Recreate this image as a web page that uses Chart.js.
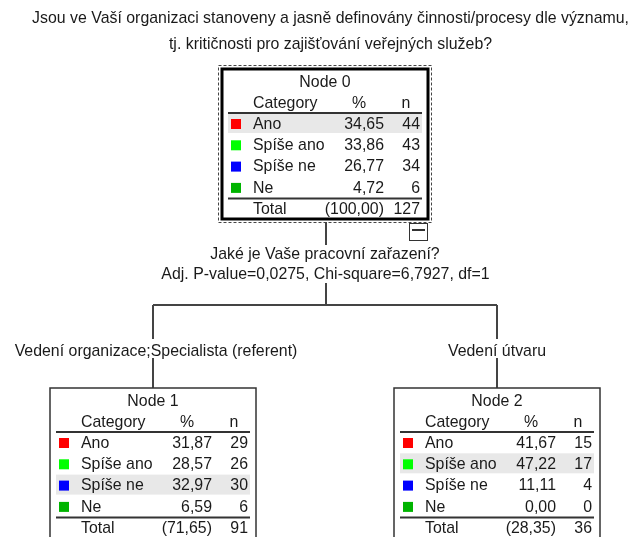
<!DOCTYPE html>
<html>
<head>
<meta charset="utf-8">
<script src="https://cdn.jsdelivr.net/npm/chart.js@4.4.0/dist/chart.umd.min.js"></script>
<style>
  html, body { margin: 0; padding: 0; background: #fff; }
  #wrap { width: 635px; height: 537px; }
</style>
</head>
<body>
<div id="wrap"><canvas id="myChart" width="635" height="537"></canvas></div>
<script>
const titleLines = [
  "Jsou ve Vaší organizaci stanoveny a jasně definovány činnosti/procesy dle významu,",
  "tj. kritičnosti pro zajišťování veřejných služeb?"
];
const categories = ["Ano", "Spíše ano", "Spíše ne", "Ne"];
const catColors = ["#ff0000", "#00ff00", "#0000ff", "#00b400"];

const nodeNames = ["Node 0", "Node 1", "Node 2"];
const node0Pct = [34.65, 33.86, 26.77, 4.72];
const node0N = [44, 43, 34, 6];
const node1Pct = [31.87, 28.57, 32.97, 6.59];
const node1N = [29, 26, 30, 6];
const node2Pct = [41.67, 47.22, 11.11, 0.00];
const node2N = [15, 17, 4, 0];
const nodeSharePct = [100.00, 71.65, 28.35];
const nodeTotalN = [127, 91, 36];

const splitVariable = "Jaké je Vaše pracovní zařazení?";
const splitStats = "Adj. P-value=0,0275, Chi-square=6,7927, df=1";
const branchLabels = ["Vedení organizace;Specialista (referent)", "Vedení útvaru"];

// layout (canvas units) for each node box: left, top
const nodeX = [222, 50, 394];
const nodeY = [69, 388, 388];
const boxW = 206;

const FONT = "17px 'Liberation Sans', Arial, sans-serif";
const textCol = "#1a1a1a";
const squeeze = 0.935; // the original text is a bit narrow

function fmt(v) { return v.toFixed(2).replace(".", ","); }

// text with a slight horizontal squeeze
function txt(ctx, s, x, y, align) {
  ctx.save();
  ctx.translate(x, y);
  ctx.scale(squeeze, 1);
  ctx.textAlign = align || "center";
  ctx.fillText(s, 0, 0);
  ctx.restore();
}

function drawNode(ctx, sx, sy, k, pct, cnt, root) {
  const L = sx(nodeX[k]), T = sy(nodeY[k]);
  // highlight modal category
  let hi = 0;
  pct.forEach((p, i) => { if (p > pct[hi]) hi = i; });

  ctx.save();
  ctx.fillStyle = "#e8e8e8";
  ctx.fillRect(L + 6, T + 44 + hi * 21.3, 194, 20);

  ctx.font = FONT;
  ctx.fillStyle = textCol;
  ctx.textBaseline = "middle";
  txt(ctx, nodeNames[k], L + boxW / 2, T + 13);
  txt(ctx, "Category", L + 31, T + 34, "left");
  txt(ctx, "%", L + 137, T + 34);
  txt(ctx, "n", L + 184, T + 34);

  ctx.strokeStyle = "#333";
  ctx.lineWidth = 2;
  ctx.beginPath();
  ctx.moveTo(L + 6, T + 44); ctx.lineTo(L + 200, T + 44);
  ctx.moveTo(L + 6, T + 129.5); ctx.lineTo(L + 200, T + 129.5);
  ctx.stroke();

  categories.forEach((c, i) => {
    const y = T + 55 + i * 21.3;
    ctx.fillStyle = catColors[i];
    ctx.fillRect(L + 9, y - 5, 10, 10);
    ctx.fillStyle = textCol;
    txt(ctx, c, L + 31, y, "left");
    txt(ctx, fmt(pct[i]), L + 162, y, "right");
    txt(ctx, String(cnt[i]), L + 198, y, "right");
  });
  const ty = T + 140.5;
  txt(ctx, "Total", L + 31, ty, "left");
  txt(ctx, "(" + fmt(nodeSharePct[k]) + ")", L + 162, ty, "right");
  txt(ctx, String(nodeTotalN[k]), L + 198, ty, "right");

  // border
  if (root) {
    ctx.strokeStyle = "#000";
    ctx.lineWidth = 3;
    ctx.strokeRect(L, T, boxW, 150);
    ctx.lineWidth = 1;
    ctx.setLineDash([3, 2]);
    ctx.strokeStyle = "#444";
    ctx.strokeRect(L - 3.5, T - 3.5, boxW + 7, 157);
    ctx.setLineDash([]);
  } else {
    ctx.strokeStyle = "#333";
    ctx.lineWidth = 1.5;
    ctx.strokeRect(L, T, boxW, 200);
  }
  ctx.restore();
}

const treePlugin = {
  id: "tree",
  afterDraw(chart) {
    const { ctx, scales: { x, y } } = chart;
    const sx = v => x.getPixelForValue(v);
    const sy = v => y.getPixelForValue(v);
    ctx.save();
    ctx.fillStyle = textCol;
    ctx.font = FONT;
    ctx.textBaseline = "middle";
    txt(ctx, titleLines[0], sx(330.5), sy(18.5));
    txt(ctx, titleLines[1], sx(330.5), sy(44.5));

    // connector lines
    ctx.strokeStyle = "#444";
    ctx.lineWidth = 2;
    ctx.beginPath();
    ctx.moveTo(sx(326), sy(222)); ctx.lineTo(sx(326), sy(245));
    ctx.moveTo(sx(326), sy(283)); ctx.lineTo(sx(326), sy(305));
    ctx.moveTo(sx(153), sy(305)); ctx.lineTo(sx(497), sy(305));
    ctx.moveTo(sx(153), sy(305)); ctx.lineTo(sx(153), sy(339));
    ctx.moveTo(sx(153), sy(358)); ctx.lineTo(sx(153), sy(388));
    ctx.moveTo(sx(497), sy(305)); ctx.lineTo(sx(497), sy(339));
    ctx.moveTo(sx(497), sy(358)); ctx.lineTo(sx(497), sy(388));
    ctx.stroke();

    // collapse box
    ctx.lineWidth = 1;
    ctx.strokeStyle = "#333";
    ctx.strokeRect(sx(409.5), sy(223.5), 18, 17);
    ctx.lineWidth = 2;
    ctx.beginPath();
    ctx.moveTo(sx(412), sy(230)); ctx.lineTo(sx(425), sy(230));
    ctx.stroke();

    ctx.fillStyle = textCol;
    txt(ctx, splitVariable, sx(325), sy(254.5));
    txt(ctx, splitStats, sx(325.5), sy(274.5));
    txt(ctx, branchLabels[0], sx(156), sy(351.5));
    txt(ctx, branchLabels[1], sx(497), sy(351.5));
    ctx.restore();

    drawNode(ctx, sx, sy, 0, node0Pct, node0N, true);
    drawNode(ctx, sx, sy, 1, node1Pct, node1N, false);
    drawNode(ctx, sx, sy, 2, node2Pct, node2N, false);
  }
};

new Chart(document.getElementById("myChart"), {
  type: "scatter",
  data: { datasets: [{ data: [] }] },
  options: {
    responsive: false,
    animation: false,
    layout: { padding: 0 },
    plugins: { legend: { display: false }, tooltip: { enabled: false } },
    scales: {
      x: { type: "linear", min: 0, max: 635, display: false },
      y: { type: "linear", min: 0, max: 537, reverse: true, display: false }
    }
  },
  plugins: [treePlugin]
});
</script>
</body>
</html>
